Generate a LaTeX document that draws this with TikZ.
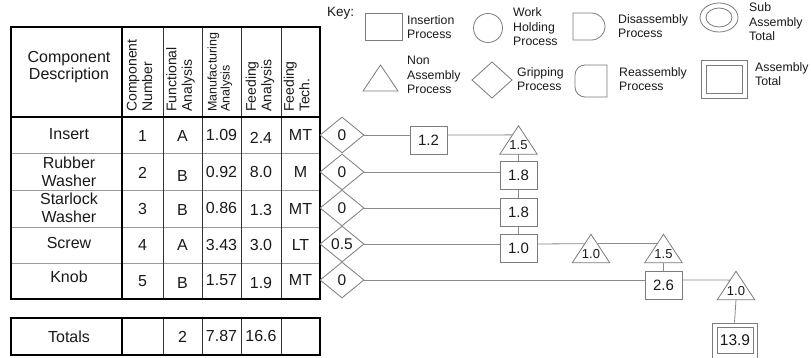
\documentclass[tikz,border=0pt]{standalone}
\usepackage{fontspec}
\setmainfont{Liberation Sans}
\usetikzlibrary{shapes.geometric,calc}
\definecolor{ink}{HTML}{1A1A1A}
\definecolor{shapegray}{HTML}{7C7C7C}
\definecolor{conngray}{HTML}{8A8A8A}
\definecolor{rowgray}{HTML}{9A9A9A}
\tikzset{
  tbl/.style={font=\fontsize{16}{17.5}\selectfont, text=ink, inner sep=0pt, align=center},
  hdr/.style={font=\fontsize{14}{15.5}\selectfont, text=ink, rotate=90, anchor=west, align=left, inner sep=0pt},
  keytxt/.style={font=\fontsize{12.3}{14.5}\selectfont, text=ink, anchor=west, align=left, inner sep=0pt},
  keyshape/.style={draw=shapegray, line width=0.8pt},
  grip/.style={diamond, draw=shapegray, line width=0.8pt, minimum width=44pt, minimum height=36pt, inner sep=0pt, font=\fontsize{15.5}{17}\selectfont, text=ink},
  ins/.style={rectangle, draw=shapegray, line width=0.8pt, minimum width=37pt, minimum height=28pt, inner sep=0pt, font=\fontsize{15}{16}\selectfont, text=ink},
  trinode/.style={rectangle, minimum width=37pt, minimum height=28pt, inner sep=0pt},
  trishape/.style={draw=shapegray, line width=0.8pt},
  trilab/.style={font=\fontsize{13}{14}\selectfont, text=ink, inner sep=0pt},
  conn/.style={draw=conngray, line width=0.8pt},
  thick border/.style={line width=1.6pt, draw=black},
  thin col/.style={line width=0.6pt, draw=black!80},
  rowline/.style={line width=0.6pt, draw=rowgray}
}
\begin{document}
\begin{tikzpicture}[x=1pt,y=-1pt]
\useasboundingbox (0,0) rectangle (811,358);
\clip (0,0) rectangle (811,358);
\fill[white] (0,0) rectangle (811,358);

% ---------- table ----------
\foreach \y in {153,190,227,263} \draw[rowline] (11,\y) -- (320,\y);
\foreach \x in {163,202,241,281} \draw[thin col] (\x,27) -- (\x,299);
\draw[line width=1.2pt] (11,117) -- (320,117);
\draw[thick border] (122,27) -- (122,299);
\draw[thick border] (11,27) rectangle (320,299);

\foreach \x in {163,202,241,281} \draw[thin col] (\x,318) -- (\x,355);
\draw[thick border] (122,318) -- (122,355);
\draw[thick border] (11,318) rectangle (320,355);

% header
\node[tbl] (hdesc) at (69,67) {Component\\Description};
\node[hdr] (hnum) at (139.5,112) {Component\\Number};
\node[hdr] (hfun) at (180.5,112) {Functional\\Analysis};
\node[hdr, font=\fontsize{12.5}{13}\selectfont] (hman) at (220,112) {Manufacturing\\Analysis};
\node[hdr] (hfeed) at (260,112) {Feeding\\Analysis};
\node[hdr] (htech) at (296.5,112) {Feeding\\Tech.};

% row 1
\node[tbl] (r1a) at (69,134) {Insert};
\node[tbl] (r1b) at (142.5,136) {1};
\node[tbl] (r1c) at (182.5,136) {A};
\node[tbl] (r1d) at (221.5,135) {1.09};
\node[tbl] (r1e) at (261,138) {2.4};
\node[tbl] (r1f) at (300.5,135) {MT};
% row 2
\node[tbl] (r2a) at (69,172) {Rubber\\Washer};
\node[tbl] (r2b) at (142.5,173) {2};
\node[tbl] (r2c) at (182.5,176) {B};
\node[tbl] (r2d) at (221.5,172) {0.92};
\node[tbl] (r2e) at (261,172) {8.0};
\node[tbl] (r2f) at (300.5,172) {M};
% row 3
\node[tbl] (r3a) at (69,208) {Starlock\\Washer};
\node[tbl] (r3b) at (142.5,209) {3};
\node[tbl] (r3c) at (182.5,210) {B};
\node[tbl] (r3d) at (221.5,208) {0.86};
\node[tbl] (r3e) at (261,210) {1.3};
\node[tbl] (r3f) at (300.5,209) {MT};
% row 4
\node[tbl] (r4a) at (69,243) {Screw};
\node[tbl] (r4b) at (142.5,245) {4};
\node[tbl] (r4c) at (182.5,245) {A};
\node[tbl] (r4d) at (221.5,245) {3.43};
\node[tbl] (r4e) at (261,245) {3.0};
\node[tbl] (r4f) at (300.5,245) {LT};
% row 5
\node[tbl] (r5a) at (69,277) {Knob};
\node[tbl] (r5b) at (142.5,281) {5};
\node[tbl] (r5c) at (182.5,283) {B};
\node[tbl] (r5d) at (221.5,280) {1.57};
\node[tbl] (r5e) at (261,283) {1.9};
\node[tbl] (r5f) at (300.5,280) {MT};
% totals
\node[tbl] (tta) at (69,337) {Totals};
\node[tbl] (ttc) at (182.5,337) {2};
\node[tbl] (ttd) at (221.5,336) {7.87};
\node[tbl] (tte) at (261,336) {16.6};

% ---------- key ----------
\node[keytxt, font=\fontsize{13.5}{15}\selectfont] (keylab) at (327,13) {Key:};
\draw[keyshape] (365,13) rectangle (402,40);
\node[keytxt] (k1) at (407,27) {Insertion\\Process};
\draw[keyshape] (488,28) circle[radius=14.5pt];
\node[keytxt] (k2) at (513,27) {Work\\Holding\\Process};
\draw[keyshape] (573,13) -- (591.5,13) arc[start angle=90, end angle=-90, radius=13.5pt] -- (573,40) -- cycle;
\node[keytxt] (k3) at (618,26) {Disassembly\\Process};
\draw[keyshape] (719,17.5) ellipse[x radius=19pt, y radius=14.5pt];
\draw[keyshape] (719,17.5) ellipse[x radius=13pt, y radius=9.5pt];
\node[keytxt] (k4) at (749,22) {Sub\\Assembly\\Total};

\draw[keyshape] (363,91) -- (380.5,65) -- (398,91) -- cycle;
\node[keytxt] (k5) at (407,75) {Non\\Assembly\\Process};
\draw[keyshape] (472,80) -- (492,62) -- (512,80) -- (492,98) -- cycle;
\node[keytxt] (k6) at (517,79) {Gripping\\Process};
\draw[keyshape] (607,65) [rounded corners=10pt] -- (575,65) -- (575,97) [sharp corners] -- (607,97) -- cycle;
\node[keytxt] (k7) at (619,79) {Reassembly\\Process};
\draw[keyshape] (701,60) rectangle (747,98);
\draw[keyshape] (706,65) rectangle (742,93);
\node[keytxt] (k8) at (755,74) {Assembly\\Total};

% ---------- process chart ----------
\node[grip] (d1) at (342,135) {0};
\node[grip] (d2) at (342,172) {0};
\node[grip] (d3) at (342,208) {0};
\node[grip] (d4) at (342,244) {0.5};
\node[grip] (d5) at (342,280) {0};

\node[ins] (b12) at (428.5,140) {1.2};
\node[ins] (b18a) at (518.5,175.5) {1.8};
\node[ins] (b18b) at (518.5,212.5) {1.8};
\node[ins] (b10) at (518.5,248.5) {1.0};
\node[ins] (b26) at (663.5,285) {2.6};
\node[ins, minimum width=45pt, minimum height=38pt] (totout) at (734.5,342) {};
\node[ins, minimum width=36pt, minimum height=26pt, font=\fontsize{15.5}{17}\selectfont] (tot) at (735,340) {13.9};

\node[trinode] (t1) at (518.5,140) {};
\node[trinode] (t2) at (591,248.5) {};
\node[trinode] (t3) at (663.5,248.5) {};
\node[trinode] (t4) at (736,285.5) {};
\foreach \t in {t1,t2,t3,t4}
  \draw[trishape] (\t.south west) -- (\t.north) -- (\t.south east) -- cycle;
\node[trilab] (t1l) at ($(t1.south)+(0,-9)$) {1.5};
\node[trilab] (t2l) at ($(t2.south)+(0,-8.5)$) {1.0};
\node[trilab] (t3l) at ($(t3.south)+(0,-8.5)$) {1.5};
\node[trilab] (t4l) at ($(t4.south)+(0,-8.5)$) {1.0};

% connectors
\draw[conn] (d1.east) -- (b12.west |- d1.east);
\draw[conn] (b12.east |- d1.east) -- ($(t1.north)!0.32!(t1.south west)$);
\draw[conn] (d2.east) -- (b18a.west |- d2.east);
\draw[conn] (d3.east) -- (b18b.west |- d3.east);
\draw[conn] (d4.east) -- (b10.west |- d4.east);
\draw[conn] (d5.east) -- (b26.west |- d5.east);
\draw[conn] (t1.south) -- (b18a.north);
\draw[conn] (b18a.south) -- (b18b.north);
\draw[conn] (b18b.south) -- (b10.north);
\draw[conn] (b10.east |- d4.east) -- ($(t2.north)!0.33!(t2.south west)$);
\draw[conn] ($(t2.north)!0.33!(t2.south east)$) -- ($(t3.north)!0.33!(t3.south west)$);
\draw[conn] (t3.south) -- (b26.north);
\draw[conn] (b26.east |- d5.east) -- ($(t4.north)!0.31!(t4.south west)$);
\draw[conn] (t4.south) -- (totout.north);
\end{tikzpicture}
\end{document}
